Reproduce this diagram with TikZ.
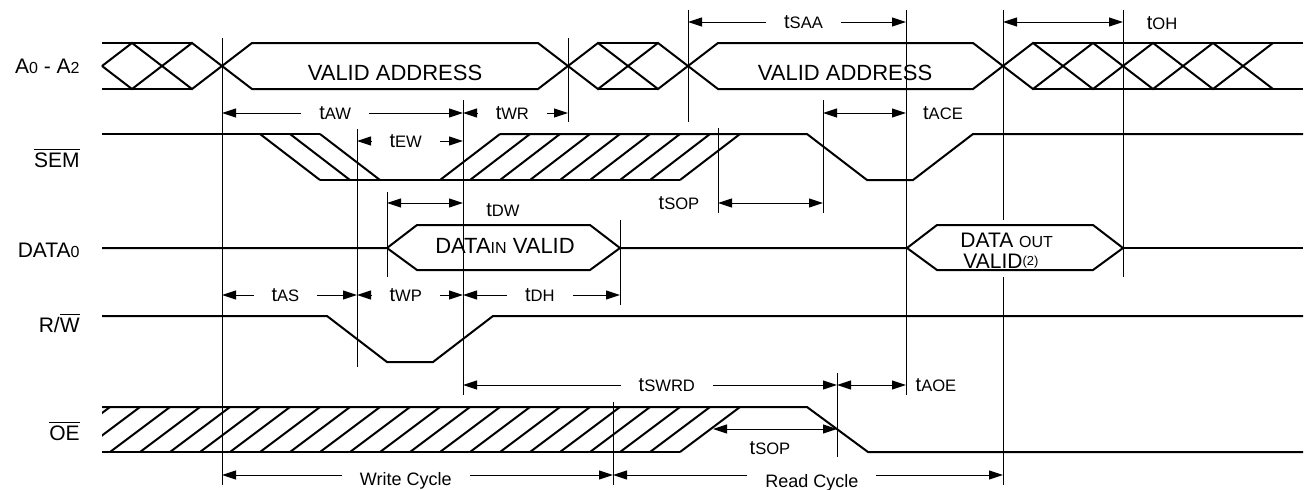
\documentclass[tikz,border=0pt]{standalone}
\usepackage{fontspec}
\setmainfont{Liberation Sans}
\usetikzlibrary{arrows.meta}
\newcommand{\tsub}[1]{t{\fontsize{8.3}{10}\selectfont #1}}
\newcommand{\lsub}[1]{{\fontsize{8}{10}\selectfont #1}}
\newcommand{\ovl}[1]{$\overline{\hbox{#1}}$}
\tikzset{
    sig/.style={line width=1pt},
    vline/.style={line width=0.5pt},
    dim/.style={line width=0.5pt, {Triangle[length=7pt,width=4.5pt]}-{Triangle[length=7pt,width=4.5pt]}},
    tlbl/.style={font=\fontsize{10}{12}\selectfont, fill=white, inner xsep=9pt, inner ysep=1pt},
    tout/.style={font=\fontsize{10}{12}\selectfont, inner sep=0pt},
    rowlbl/.style={font=\fontsize{10.5}{12}\selectfont, anchor=base east, inner sep=0pt},
    txt/.style={font=\fontsize{11}{12}\selectfont, anchor=base, inner sep=0pt}
}
\begin{document}
\begin{tikzpicture}[x=0.5pt, y=-0.5pt]
    \useasboundingbox (0,0) rectangle (1306,489);

    \node[rowlbl] (la) at (80,73) {A\lsub{0} - A\lsub{2}};
    \node[rowlbl] (lsem) at (80,167) {\ovl{SEM}};
    \node[rowlbl] (ldata) at (80,257) {DATA\lsub{0}};
    \node[rowlbl] (lrw) at (80,332) {R/\ovl{W}};
    \node[rowlbl] (loe) at (80,440) {\ovl{OE}};

    \draw[sig] (102,43) -- (192,43) (102,89) -- (192,89);
    \draw[sig] (598,43) -- (658,43) (598,89) -- (658,89);
    \draw[sig] (1033,43) -- (1303,43) (1033,89) -- (1303,89);
    \draw[sig] (102,66) -- (132,43) -- (192,89) -- (252,43) -- (538,43) -- (598,89) -- (658,43) -- (718,89)
        -- (973,89) -- (1033,43) -- (1093,89) -- (1153,43) -- (1213,89) -- (1273,43);
    \draw[sig] (102,66) -- (132,89) -- (192,43) -- (252,89) -- (538,89) -- (598,43) -- (658,89) -- (718,43)
        -- (973,43) -- (1033,89) -- (1093,43) -- (1153,89) -- (1213,43) -- (1273,89);
    \node[txt] (va1) at (395,80) {VALID ADDRESS};
    \node[txt] (va2) at (845,80) {VALID ADDRESS};

    \draw[sig] (102,134) -- (320,134);
    \draw[sig] (320,180) -- (680,180);
    \draw[sig] (500,134) -- (807,134) -- (867,180) -- (913,180) -- (973,134) -- (1303,134);
    \foreach \x in {260,290,320}
        \draw[sig] (\x,134) -- ++(60,46);
    \foreach \x in {440,470,...,680}
        \draw[sig] (\x,180) -- ++(60,-46);

    \draw[sig] (102,248) -- (387,248) -- (417,225) -- (590,225) -- (620,248) -- (590,270) -- (417,270) -- (387,248);
    \draw[sig] (620,248) -- (907,248) -- (937,225) -- (1093,225) -- (1123,248) -- (1093,270) -- (937,270) -- (907,248);
    \draw[sig] (1123,248) -- (1303,248);
    \node[txt] (din) at (505,253) {DATA\lsub{IN} VALID};
    \node[txt, anchor=base west, font=\fontsize{10.5}{12}\selectfont] (dout) at (960,247) {DATA \lsub{OUT}};
    \node[txt, anchor=base west, font=\fontsize{10.5}{12}\selectfont] (dvalid) at (963,268) {VALID\raisebox{1.5pt}{\fontsize{6.5}{8}\selectfont (2)}};

    \draw[sig] (102,316) -- (327,316) -- (387,362) -- (433,362) -- (493,316) -- (1303,316);

    \draw[sig] (102,407) -- (807,407) -- (868,452) -- (1303,452);
    \draw[sig] (102,452) -- (680,452);
    \begin{scope}
        \clip (102,395) rectangle (800,465);
        \foreach \x in {50,80,...,680}
            \draw[sig] (\x,452) -- ++(60,-45);
    \end{scope}

    \foreach \x/\ya/\yb in {222/38/485, 357/129/367, 387/192/277, 463/100/395, 568/38/122,
        613/402/485, 620/220/305, 688/10/122, 718/128/213, 823/100/213, 837/373/457,
        906/10/395, 1003/10/220, 1003/277/485, 1123/10/277}
        \draw[vline] (\x,\ya) -- (\x,\yb);

    \draw[dim] (688,22) -- node[tlbl, pos=0.53] (tsaa) {\tsub{SAA}} (906,22);
    \draw[dim] (1003,22) -- (1123,22);
    \node[tout] (toh) at (1162,23) {\tsub{OH}};
    \draw[dim] (222,113) -- node[tlbl, pos=0.47] (taw) {\tsub{AW}} (463,113);
    \draw[dim] (463,113) -- node[tlbl, pos=0.47] (twr) {\tsub{WR}} (568,113);
    \draw[dim] (823,113) -- (906,113);
    \node[tout] (tace) at (943,113) {\tsub{ACE}};
    \draw[dim] (357,141) -- node[tlbl, pos=0.46] (tew) {\tsub{EW}} (463,141);
    \draw[dim] (387,203) -- (463,203);
    \node[tout] (tdw) at (503,210) {\tsub{DW}};
    \draw[dim] (718,203) -- (823,203);
    \node[tout] (tsop) at (679,203) {\tsub{SOP}};
    \draw[dim] (222,295) -- node[tlbl, pos=0.47] (tas) {\tsub{AS}} (357,295);
    \draw[dim] (357,295) -- node[tlbl, pos=0.46] (twp) {\tsub{WP}} (463,295);
    \draw[dim] (463,295) -- node[tlbl, pos=0.49] (tdh) {\tsub{DH}} (620,295);
    \draw[dim] (463,385) -- node[tlbl, pos=0.545] (tswrd) {\tsub{SWRD}} (837,385);
    \draw[dim] (837,385) -- (906,385);
    \node[tout] (taoe) at (936,385) {\tsub{AOE}};
    \draw[dim] (713,429) -- (837,429);
    \node[tout] (tsop2) at (770,448) {\tsub{SOP}};

    \draw[dim] (222,475) -- node[tlbl, pos=0.47, yshift=-2.75pt, font=\fontsize{9}{10}\selectfont] (wcyc) {Write Cycle} (613,475);
    \draw[dim] (613,475) -- node[tlbl, pos=0.51, yshift=-3.75pt, font=\fontsize{9}{10}\selectfont] (rcyc) {Read Cycle} (1003,475);
\end{tikzpicture}
\end{document}
